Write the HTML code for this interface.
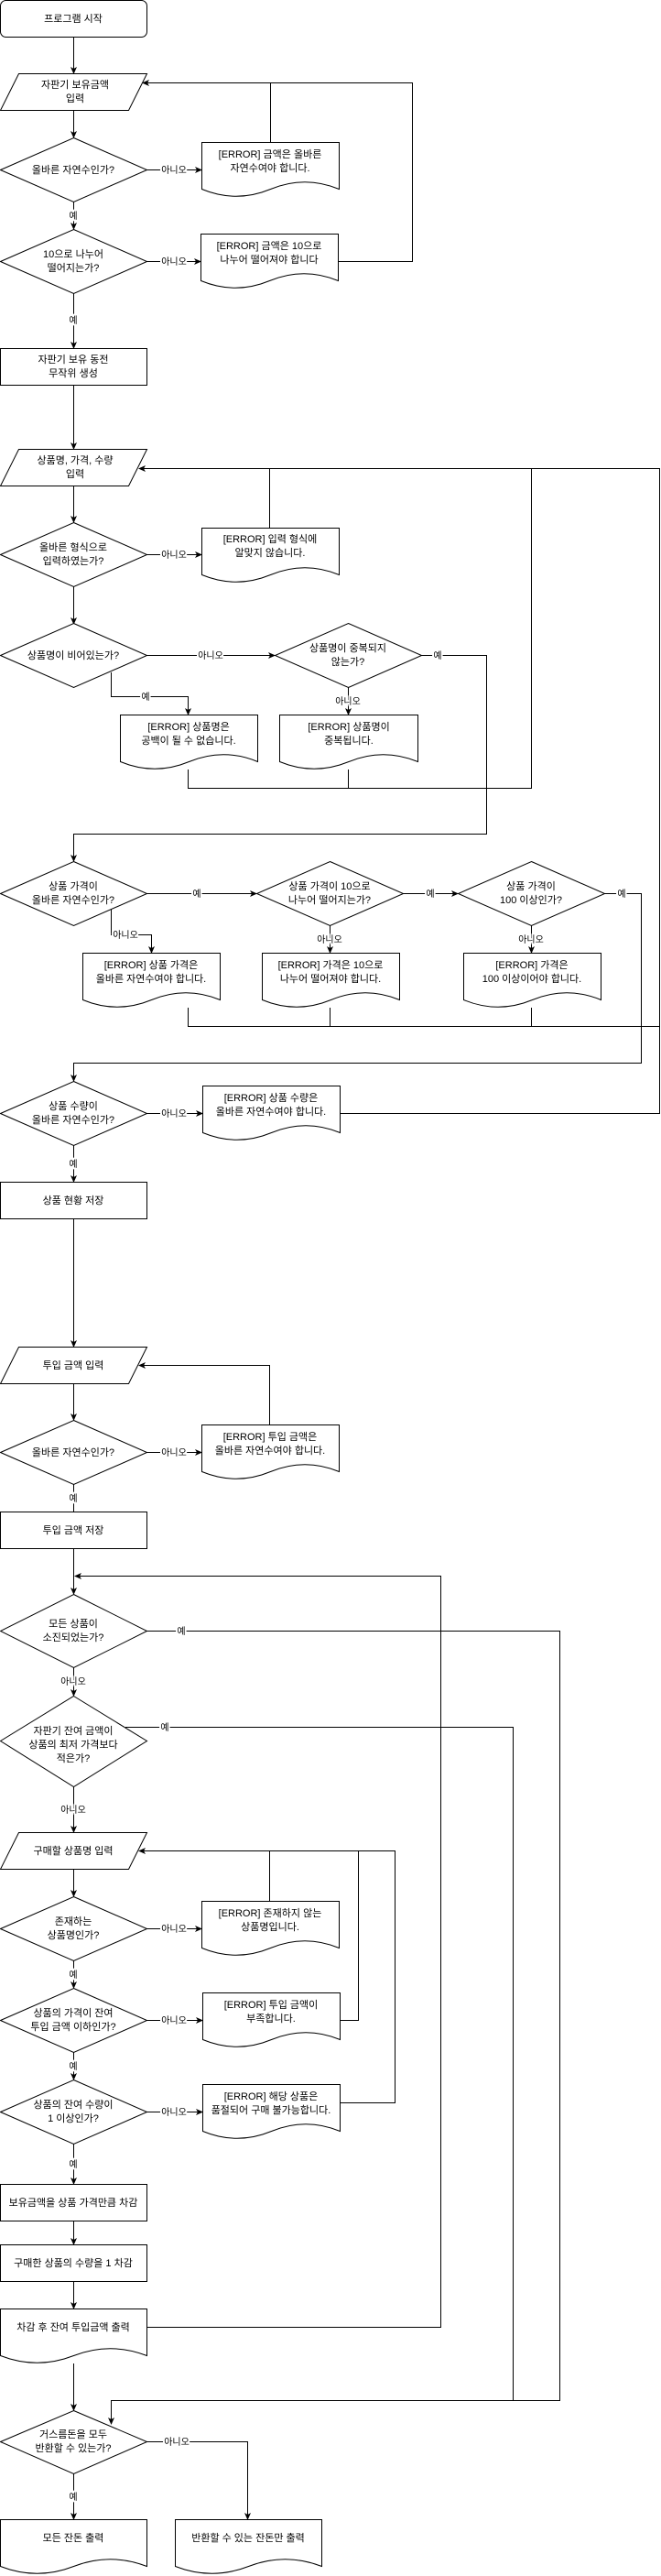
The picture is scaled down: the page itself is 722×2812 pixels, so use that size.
<!DOCTYPE html>
<html><head><meta charset="utf-8"><style>
html,body{margin:0;padding:0;background:#fff}
svg{display:block}
text{font-family:"Liberation Sans","Noto Sans CJK KR",sans-serif;font-size:11px;fill:#000;text-anchor:middle}
.l{font-size:10px;stroke:#fff;stroke-width:4px;paint-order:stroke;stroke-linejoin:round}
.s{fill:#fff;stroke:#000;stroke-width:1}
.c{fill:none;stroke:#000;stroke-width:1}
</style></head><body>
<svg width="722" height="2812" viewBox="0 0 722 2812" xmlns="http://www.w3.org/2000/svg">
<defs><marker id="a" markerWidth="8" markerHeight="8" refX="7" refY="4" orient="auto" markerUnits="userSpaceOnUse"><path d="M0,0.5 L8,4 L0,7.5 L2,4 Z" fill="#000"/></marker></defs>

<!-- connectors -->
<g class="c">
<path d="M80.5 40V80" marker-end="url(#a)"/>
<path d="M80.5 120V150" marker-end="url(#a)"/>
<path d="M160 185.5H220" marker-end="url(#a)"/>
<path d="M295.5 155V90.5H156" marker-end="url(#a)"/>
<path d="M80.5 220V250" marker-end="url(#a)"/>
<path d="M160 285.5H219" marker-end="url(#a)"/>
<path d="M369 285.5H450.5V90.5H295"/>
<path d="M80.5 320V380" marker-end="url(#a)"/>
<path d="M80.5 420V490" marker-end="url(#a)"/>
<path d="M80.5 530V570" marker-end="url(#a)"/>
<path d="M160 605.5H220" marker-end="url(#a)"/>
<path d="M294.5 576V511.5H152" marker-end="url(#a)"/>
<path d="M720.5 511.5H294"/>
<path d="M80.5 640V681" marker-end="url(#a)"/>
<path d="M160 715.5H300" marker-end="url(#a)"/>
<path d="M121.5 734V760.5H205.5V780" marker-end="url(#a)"/>
<path d="M380.5 750V780" marker-end="url(#a)"/>
<path d="M460 715.5H531.5V910.5H80.5V940" marker-end="url(#a)"/>
<path d="M205.5 840V860.5H580.5V511"/>
<path d="M380.5 840V860"/>
<path d="M160 975.5H280" marker-end="url(#a)"/>
<path d="M440 975.5H500" marker-end="url(#a)"/>
<path d="M660 975.5H700.5V1160.5H80.5V1180" marker-end="url(#a)"/>
<path d="M121.5 993V1020.5H165.5V1040" marker-end="url(#a)"/>
<path d="M360.5 1010V1040" marker-end="url(#a)"/>
<path d="M580.5 1010V1040" marker-end="url(#a)"/>
<path d="M205.5 1100V1120.5H720.5"/>
<path d="M360.5 1100V1120"/>
<path d="M580.5 1100V1120"/>
<path d="M720.5 511V1215.5H371"/>
<path d="M160 1215.5H221" marker-end="url(#a)"/>
<path d="M80.5 1250V1290" marker-end="url(#a)"/>
<path d="M80.5 1330V1470" marker-end="url(#a)"/>
<path d="M80.5 1510V1550" marker-end="url(#a)"/>
<path d="M160 1585.5H220" marker-end="url(#a)"/>
<path d="M294.5 1555V1490.5H152" marker-end="url(#a)"/>
<path d="M80.5 1620V1650"/>
<path d="M80.5 1690V1740" marker-end="url(#a)"/>
<path d="M160 2540.5H481.5V1720.5H82" marker-end="url(#a)"/>
<path d="M160 1780.5H611.5V2620.5H121.5V2646" marker-end="url(#a)"/>
<path d="M80.5 1820V1851" marker-end="url(#a)"/>
<path d="M137 1885.5H560.5V2620"/>
<path d="M80.5 1950V2000" marker-end="url(#a)"/>
<path d="M80.5 2040V2070" marker-end="url(#a)"/>
<path d="M160 2105.5H220" marker-end="url(#a)"/>
<path d="M294.5 2075V2020.5H152" marker-end="url(#a)"/>
<path d="M431.5 2020.5H294"/>
<path d="M80.5 2140V2170" marker-end="url(#a)"/>
<path d="M160 2205.5H221" marker-end="url(#a)"/>
<path d="M371 2205.5H391.5V2020"/>
<path d="M80.5 2240V2270" marker-end="url(#a)"/>
<path d="M160 2305.5H221" marker-end="url(#a)"/>
<path d="M371 2295.5H431.5V2020"/>
<path d="M80.5 2340V2384" marker-end="url(#a)"/>
<path d="M80.5 2424V2450" marker-end="url(#a)"/>
<path d="M80.5 2490V2520" marker-end="url(#a)"/>
<path d="M80.5 2580V2631" marker-end="url(#a)"/>
<path d="M160 2665.5H270.5V2750" marker-end="url(#a)"/>
<path d="M80.5 2700V2750" marker-end="url(#a)"/>
</g>

<!-- shapes -->
<g class="s">
<rect x="0.5" y="0.5" width="160" height="40" rx="6"/>
<path d="M20.5 80.5H160.5L140.5 120.5H0.5Z"/>
<path d="M80.5 150.5L160.5 185.5L80.5 220.5L0.5 185.5Z"/>
<path d="M80.5 250.5L160.5 285.5L80.5 320.5L0.5 285.5Z"/>
<rect x="0.5" y="380.5" width="160" height="40"/>
<path d="M20.5 490.5H160.5L140.5 530.5H0.5Z"/>
<path d="M80.5 570.5L160.5 605.5L80.5 640.5L0.5 605.5Z"/>
<path d="M80.5 680.5L160.5 715.5L80.5 750.5L0.5 715.5Z"/>
<path d="M380.5 680.5L460.5 715.5L380.5 750.5L300.5 715.5Z"/>
<path d="M80.5 940.5L160.5 975.5L80.5 1010.5L0.5 975.5Z"/>
<path d="M360.5 940.5L440.5 975.5L360.5 1010.5L280.5 975.5Z"/>
<path d="M580.5 940.5L660.5 975.5L580.5 1010.5L500.5 975.5Z"/>
<path d="M80.5 1180.5L160.5 1215.5L80.5 1250.5L0.5 1215.5Z"/>
<rect x="0.5" y="1290.5" width="160" height="40"/>
<path d="M20.5 1470.5H160.5L140.5 1510.5H0.5Z"/>
<path d="M80.5 1550.5L160.5 1585.5L80.5 1620.5L0.5 1585.5Z"/>
<rect x="0.5" y="1650.5" width="160" height="40"/>
<path d="M80.5 1740.5L160.5 1780.5L80.5 1820.5L0.5 1780.5Z"/>
<path d="M80.5 1851.5L160.5 1900.5L80.5 1950.5L0.5 1900.5Z"/>
<path d="M20.5 2000.5H160.5L140.5 2040.5H0.5Z"/>
<path d="M80.5 2070.5L160.5 2105.5L80.5 2140.5L0.5 2105.5Z"/>
<path d="M80.5 2170.5L160.5 2205.5L80.5 2240.5L0.5 2205.5Z"/>
<path d="M80.5 2270.5L160.5 2305.5L80.5 2340.5L0.5 2305.5Z"/>
<rect x="0.5" y="2384.5" width="160" height="40"/>
<rect x="0.5" y="2450.5" width="160" height="40"/>
<path d="M80.5 2631.5L160.5 2665.5L80.5 2700.5L0.5 2665.5Z"/>
<!-- documents -->
<path d="M220.5 155.5H370.5V206.5Q333 191 295.5 206.5Q258 222 220.5 206.5Z"/>
<path d="M219.5 255.5H369.5V306.5Q332 291 294.5 306.5Q257 322 219.5 306.5Z"/>
<path d="M220.5 576.5H370.5V627.5Q333 612 295.5 627.5Q258 643 220.5 627.5Z"/>
<path d="M131.5 780.5H281.5V831.5Q244 816 206.5 831.5Q169 847 131.5 831.5Z"/>
<path d="M305.5 780.5H456.5V831.5Q418.5 816 381 831.5Q343 847 305.5 831.5Z"/>
<path d="M90.5 1040.5H240.5V1091.5Q203 1076 165.5 1091.5Q128 1107 90.5 1091.5Z"/>
<path d="M286.5 1040.5H436.5V1091.5Q399 1076 361.5 1091.5Q324 1107 286.5 1091.5Z"/>
<path d="M506.5 1040.5H656.5V1091.5Q619 1076 581.5 1091.5Q544 1107 506.5 1091.5Z"/>
<path d="M221.5 1185.5H371.5V1236.5Q334 1221 296.5 1236.5Q259 1252 221.5 1236.5Z"/>
<path d="M220.5 1555.5H370.5V1606.5Q333 1591 295.5 1606.5Q258 1622 220.5 1606.5Z"/>
<path d="M220.5 2075.5H370.5V2126.5Q333 2111 295.5 2126.5Q258 2142 220.5 2126.5Z"/>
<path d="M221.5 2175.5H371.5V2226.5Q334 2211 296.5 2226.5Q259 2242 221.5 2226.5Z"/>
<path d="M221.5 2275.5H371.5V2326.5Q334 2311 296.5 2326.5Q259 2342 221.5 2326.5Z"/>
<path d="M0.5 2520.5H160.5V2571.5Q120.5 2556 80.5 2571.5Q40.5 2587 0.5 2571.5Z"/>
<path d="M0.5 2750.5H160.5V2801.5Q120.5 2786 80.5 2801.5Q40.5 2817 0.5 2801.5Z"/>
<path d="M191.5 2750.5H351.5V2801.5Q311.5 2786 271.5 2801.5Q231.5 2817 191.5 2801.5Z"/>
</g>

<!-- node text -->
<g>
<text x="80" y="24">프로그램 시작</text>
<text x="82" y="96">자판기 보유금액</text><text x="82" y="111">입력</text>
<text x="80" y="189">올바른 자연수인가?</text>
<text x="80" y="281">10으로 나누어</text><text x="80" y="296">떨어지는가?</text>
<text x="80" y="396">자판기 보유 동전</text><text x="80" y="411">무작위 생성</text>
<text x="82" y="506">상품명, 가격, 수량</text><text x="82" y="521">입력</text>
<text x="80" y="601">올바른 형식으로</text><text x="80" y="616">입력하였는가?</text>
<text x="80" y="719">상품명이 비어있는가?</text>
<text x="380" y="711">상품명이 중복되지</text><text x="380" y="726">않는가?</text>
<text x="80" y="971">상품 가격이</text><text x="80" y="986">올바른 자연수인가?</text>
<text x="360" y="971">상품 가격이 10으로</text><text x="360" y="986">나누어 떨어지는가?</text>
<text x="580" y="971">상품 가격이</text><text x="580" y="986">100 이상인가?</text>
<text x="80" y="1211">상품 수량이</text><text x="80" y="1226">올바른 자연수인가?</text>
<text x="80" y="1314">상품 현황 저장</text>
<text x="80" y="1494">투입 금액 입력</text>
<text x="80" y="1589">올바른 자연수인가?</text>
<text x="80" y="1674">투입 금액 저장</text>
<text x="80" y="1776">모든 상품이</text><text x="80" y="1791">소진되었는가?</text>
<text x="80" y="1893">자판기 잔여 금액이</text><text x="80" y="1908">상품의 최저 가격보다</text><text x="80" y="1923">적은가?</text>
<text x="80" y="2024">구매할 상품명 입력</text>
<text x="80" y="2101">존재하는</text><text x="80" y="2116">상품명인가?</text>
<text x="80" y="2201">상품의 가격이 잔여</text><text x="80" y="2216">투입 금액 이하인가?</text>
<text x="80" y="2301">상품의 잔여 수량이</text><text x="80" y="2316">1 이상인가?</text>
<text x="80" y="2408">보유금액을 상품 가격만큼 차감</text>
<text x="80" y="2474">구매한 상품의 수량을 1 차감</text>
<text x="80" y="2544">차감 후 잔여 투입금액 출력</text>
<text x="80" y="2661">거스름돈을 모두</text><text x="80" y="2676">반환할 수 있는가?</text>
<text x="80" y="2774">모든 잔돈 출력</text>
<text x="271" y="2774">반환할 수 있는 잔돈만 출력</text>
<!-- doc text -->
<text x="295" y="172">[ERROR] 금액은 올바른</text><text x="295" y="187">자연수여야 합니다.</text>
<text x="294" y="272">[ERROR] 금액은 10으로</text><text x="294" y="287">나누어 떨어져야 합니다</text>
<text x="295" y="592">[ERROR] 입력 형식에</text><text x="295" y="607">알맞지 않습니다.</text>
<text x="206" y="797">[ERROR] 상품명은</text><text x="206" y="812">공백이 될 수 없습니다.</text>
<text x="381" y="797">[ERROR] 상품명이</text><text x="381" y="812">중복됩니다.</text>
<text x="165" y="1057">[ERROR] 상품 가격은</text><text x="165" y="1072">올바른 자연수여야 합니다.</text>
<text x="361" y="1057">[ERROR] 가격은 10으로</text><text x="361" y="1072">나누어 떨어져야 합니다.</text>
<text x="581" y="1057">[ERROR] 가격은</text><text x="581" y="1072">100 이상이어야 합니다.</text>
<text x="296" y="1202">[ERROR] 상품 수량은</text><text x="296" y="1217">올바른 자연수여야 합니다.</text>
<text x="295" y="1572">[ERROR] 투입 금액은</text><text x="295" y="1587">올바른 자연수여야 합니다.</text>
<text x="295" y="2092">[ERROR] 존재하지 않는</text><text x="295" y="2107">상품명입니다.</text>
<text x="296" y="2192">[ERROR] 투입 금액이</text><text x="296" y="2207">부족합니다.</text>
<text x="296" y="2292">[ERROR] 해당 상품은</text><text x="296" y="2307">품절되어 구매 불가능합니다.</text>
</g>

<!-- edge labels -->
<g>
<text class="l" x="190" y="189">아니오</text>
<text class="l" x="80" y="239">예</text>
<text class="l" x="190" y="289">아니오</text>
<text class="l" x="80" y="353">예</text>
<text class="l" x="190" y="609">아니오</text>
<text class="l" x="230" y="719">아니오</text>
<text class="l" x="159" y="764">예</text>
<text class="l" x="380" y="769">아니오</text>
<text class="l" x="478" y="719">예</text>
<text class="l" x="215" y="979">예</text>
<text class="l" x="470" y="979">예</text>
<text class="l" x="679" y="979">예</text>
<text class="l" x="137" y="1024">아니오</text>
<text class="l" x="360" y="1029">아니오</text>
<text class="l" x="580" y="1029">아니오</text>
<text class="l" x="190" y="1219">아니오</text>
<text class="l" x="80" y="1274">예</text>
<text class="l" x="190" y="1589">아니오</text>
<text class="l" x="80" y="1639">예</text>
<text class="l" x="198" y="1784">예</text>
<text class="l" x="80" y="1839">아니오</text>
<text class="l" x="180" y="1889">예</text>
<text class="l" x="80" y="1979">아니오</text>
<text class="l" x="190" y="2109">아니오</text>
<text class="l" x="80" y="2159">예</text>
<text class="l" x="190" y="2209">아니오</text>
<text class="l" x="80" y="2259">예</text>
<text class="l" x="190" y="2309">아니오</text>
<text class="l" x="80" y="2366">예</text>
<text class="l" x="193" y="2669">아니오</text>
<text class="l" x="80" y="2729">예</text>
</g>
</svg>
</body></html>
